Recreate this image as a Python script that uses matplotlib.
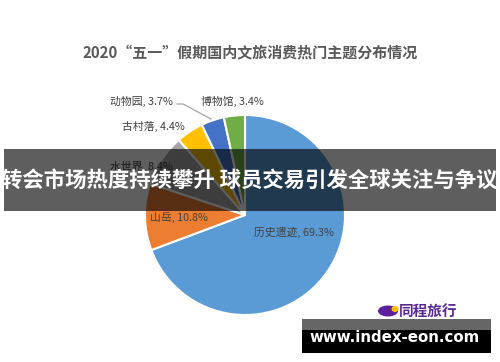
import matplotlib
matplotlib.use("Agg")
import matplotlib.pyplot as plt
from matplotlib.patches import Rectangle, Ellipse

plt.rcParams['font.family'] = ['Noto Sans CJK SC', 'DejaVu Sans']

# ---- data ----
categories = ["历史遗迹", "山岳", "水世界", "古村落", "动物园", "博物馆"]
shares = [69.3, 10.8, 8.4, 4.4, 3.7, 3.4]
colors = ["#5B9BD5", "#ED7D31", "#A5A5A5", "#FFC000", "#4472C4", "#70AD47"]
title = "2020“五一”假期国内文旅消费热门主题分布情况"
banner_text = "转会市场热度持续攀升 球员交易引发全球关注与争议"
logo_text = "同程旅行"
site_text = "www.index-eon.com"

# label positions in pixel coordinates (layout only)
label_pos = [(294, 232), (179, 217), (141, 166), (153, 126), (141, 101), (232, 101)]

W, H = 500, 362
fig = plt.figure(figsize=(W / 100, H / 100), dpi=100)
fig.patch.set_facecolor("white")

# pie axes: center (245,215), radius 100 px
cx, cy, r = 245, 215, 100
pax = fig.add_axes([(cx - r) / W, (H - cy - r) / H, 2 * r / W, 2 * r / H])
pax.pie(shares, colors=colors, startangle=90, counterclock=False, radius=1,
        wedgeprops=dict(edgecolor="white", linewidth=1.5))
pax.set_xlim(-1, 1)
pax.set_ylim(-1, 1)
pax.set_aspect("equal")
pax.axis("off")

# overlay axes in pixel coordinates
ov = fig.add_axes([0, 0, 1, 1])
ov.set_xlim(0, W)
ov.set_ylim(H, 0)
ov.axis("off")
ov.patch.set_alpha(0)

ov.text(250, 53, title, ha="center", va="center", fontsize=10.8,
        fontweight="bold", color="#595959")

for cat, val, (x, y) in zip(categories, shares, label_pos):
    ov.text(x, y, f"{cat}, {val}%", ha="center", va="center", fontsize=7.8,
            color="#404040", zorder=1)

# leader line for 动物园
ov.plot([177, 183, 211], [104, 104, 119], color="#A6A6A6", lw=0.9, zorder=1)

# banner
ov.add_patch(Rectangle((4, 149), 492, 62, facecolor="black", alpha=0.63,
                       edgecolor="none", zorder=2))
ov.text(249, 180, banner_text, ha="center", va="center", fontsize=15.4,
        fontweight="bold", color="white", zorder=3)

# logo
ov.add_patch(Ellipse((388, 311), 20, 11, facecolor="#5B1FA0", edgecolor="none", zorder=2))
ov.add_patch(Ellipse((395, 309), 7, 6, facecolor="#FFC000", edgecolor="none", zorder=2))
ov.text(428, 311, logo_text, ha="center", va="center", fontsize=10.5,
        fontweight="bold", style="italic", color="#5B2C8F", zorder=3)

# site box
ov.add_patch(Rectangle((302, 319), 189, 11, facecolor="#666666", edgecolor="none", zorder=2))
ov.add_patch(Rectangle((302, 330), 189, 23, facecolor="black", edgecolor="none", zorder=2))
ov.text(395, 337, site_text, ha="center", va="center", fontsize=10.8,
        fontweight="bold", color="white", family="DejaVu Sans", zorder=3)

fig.savefig("out.png", dpi=100, facecolor="white")
